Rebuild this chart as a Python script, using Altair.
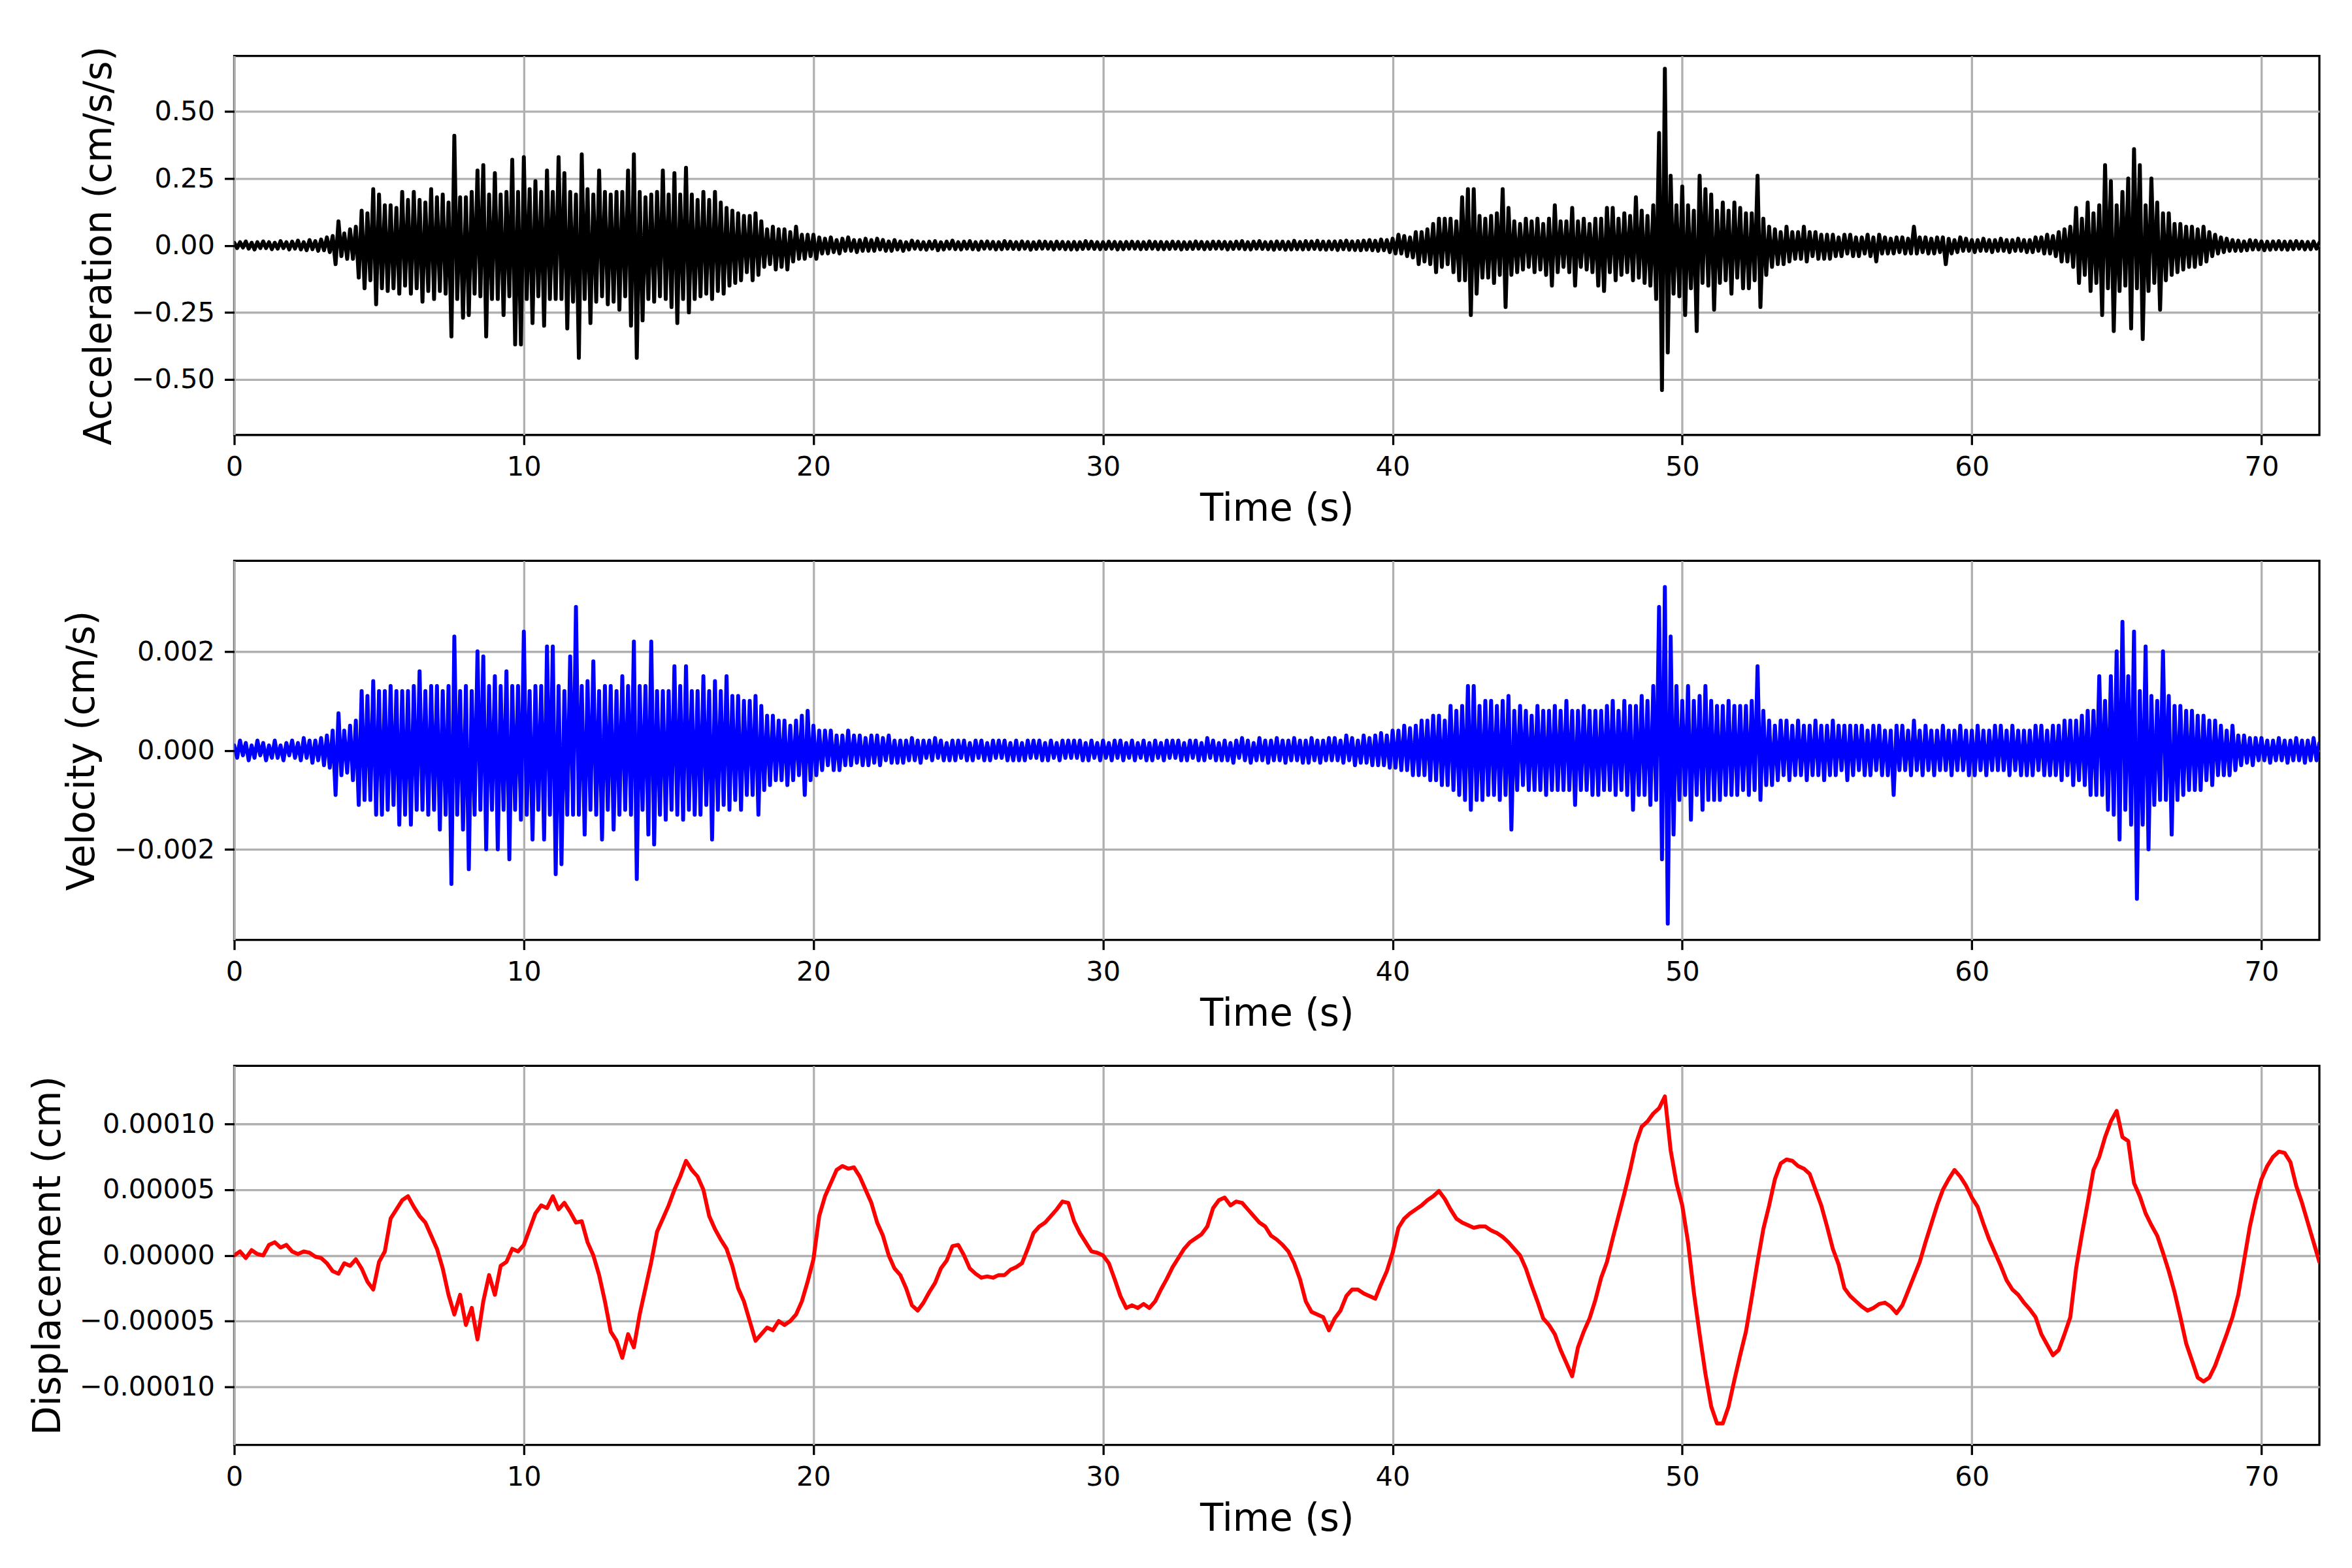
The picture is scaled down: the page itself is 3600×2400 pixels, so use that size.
import altair as alt
import numpy as np
import pandas as pd

# ---------------- data ----------------
# Acceleration (cm/s/s), one value every 0.1 s from 0.0 to 72.0 s (rows = 1 s)
ACC = [
    .01, -.01, .012, -.008, .015, -.012, .01, -.015, .012, -.01,
    .015, -.01, .012, -.014, .01, -.012, .016, -.01, .012, -.015,
    .014, -.012, .018, -.015, .012, -.018, .02, -.014, .016, -.02,
    .022, -.018, .03, -.025, .035, -.07, .09, -.04, .045, -.05,
    .06, -.05, .07, -.12, .13, -.16, .12, -.13, .21, -.22,
    .19, -.16, .15, -.17, .15, -.16, .14, -.18, .2, -.15,
    .17, -.18, .2, -.16, .17, -.21, .16, -.17, .21, -.2,
    .18, -.17, .19, -.18, .16, -.34, .41, -.2, .18, -.27,
    .18, -.26, .2, -.18, .28, -.19, .3, -.34, .19, -.2,
    .27, -.2, .19, -.26, .2, -.19, .32, -.37, .2, -.37,
    .33, -.2, .21, -.29, .24, -.19, .2, -.3, .28, -.2,
    .2, -.2, .33, -.2, .27, -.31, .2, -.21, .19, -.42,
    .34, -.2, .21, -.29, .19, -.21, .28, -.19, .2, -.22,
    .19, -.21, .2, -.24, .2, -.19, .28, -.3, .34, -.42,
    .2, -.28, .18, -.2, .19, -.21, .2, -.19, .28, -.2,
    .19, -.23, .27, -.29, .19, -.2, .29, -.25, .19, -.2,
    .17, -.19, .2, -.18, .17, -.2, .2, -.17, .16, -.18,
    .14, -.15, .13, -.14, .12, -.13, .11, -.1, .11, -.13,
    .12, -.11, .09, -.08, .06, -.07, .07, -.09, .06, -.08,
    .06, -.09, .05, -.06, .07, -.05, .04, -.05, .04, -.04,
    .04, -.05, .03, -.03, .025, -.03, .03, -.025, .02, -.03,
    .025, -.02, .03, -.02, .02, -.025, .02, -.02, .025, -.02,
    .02, -.02, .025, -.015, .02, -.02, .015, -.02, .02, -.015,
    .015, -.02, .012, -.015, .018, -.012, .015, -.014, .012, -.016,
    .014, -.012, .016, -.018, .012, -.015, .014, -.012, .018, -.014,
    .012, -.015, .014, -.012, .016, -.014, .012, -.016, .014, -.012,
    .015, -.012, .013, -.015, .012, -.014, .016, -.012, .014, -.013,
    .012, -.014, .015, -.012, .013, -.016, .012, -.013, .015, -.012,
    .014, -.012, .012, -.015, .014, -.012, .013, -.014, .012, -.015,
    .013, -.015, .012, -.013, .016, -.012, .014, -.013, .012, -.014,
    .012, -.013, .014, -.012, .013, -.015, .012, -.014, .013, -.012,
    .014, -.012, .013, -.014, .012, -.013, .015, -.012, .013, -.014,
    .013, -.014, .012, -.013, .014, -.012, .013, -.015, .012, -.013,
    .012, -.013, .015, -.012, .013, -.014, .012, -.013, .014, -.012,
    .014, -.012, .013, -.015, .012, -.013, .014, -.012, .016, -.014,
    .012, -.015, .014, -.012, .016, -.013, .012, -.014, .013, -.016,
    .015, -.013, .014, -.016, .013, -.015, .017, -.014, .013, -.015,
    .016, -.014, .015, -.013, .017, -.015, .014, -.016, .015, -.014,
    .015, -.017, .016, -.014, .018, -.016, .015, -.017, .016, -.018,
    .018, -.016, .02, -.018, .017, -.02, .022, -.018, .02, -.025,
    .025, -.03, .04, -.03, .035, -.04, .03, -.045, .05, -.07,
    .05, -.06, .06, -.07, .08, -.1, .1, -.08, .1, -.07,
    .1, -.1, .09, -.13, .18, -.13, .21, -.26, .21, -.18,
    .11, -.12, .1, -.12, .11, -.14, .12, -.11, .21, -.23,
    .14, -.11, .09, -.1, .08, -.09, .1, -.08, .09, -.1,
    .1, -.09, .08, -.11, .1, -.15, .15, -.1, .09, -.08,
    .09, -.1, .14, -.15, .09, -.08, .1, -.09, .08, -.1,
    .1, -.15, .1, -.17, .14, -.1, .14, -.13, .1, -.11,
    .12, -.1, .11, -.13, .18, -.12, .13, -.14, .11, -.15,
    .15, -.2, .42, -.54, .66, -.4, .26, -.18, .15, -.19,
    .22, -.26, .15, -.16, .13, -.32, .26, -.14, .21, -.15,
    .19, -.24, .13, -.14, .16, -.13, .13, -.18, .16, -.12,
    .14, -.16, .12, -.16, .12, -.13, .26, -.23, .1, -.11,
    .07, -.08, .06, -.07, .05, -.07, .07, -.06, .05, -.05,
    .05, -.05, .07, -.06, .05, -.04, .05, -.05, .04, -.05,
    .04, -.05, .04, -.04, .03, -.04, .04, -.03, .04, -.04,
    .03, -.04, .03, -.03, .04, -.04, .03, -.06, .04, -.03,
    .03, -.03, .025, -.03, .03, -.025, .03, -.03, .025, -.03,
    .07, -.03, .03, -.025, .03, -.03, .025, -.03, .03, -.025,
    .03, -.07, .025, -.03, .02, -.025, .03, -.02, .025, -.02,
    .02, -.025, .02, -.02, .025, -.02, .02, -.025, .02, -.02,
    .025, -.02, .02, -.025, .02, -.02, .025, -.02, .02, -.025,
    .02, -.025, .03, -.02, .03, -.03, .04, -.03, .035, -.04,
    .05, -.06, .06, -.06, .07, -.08, .14, -.14, .1, -.11,
    .16, -.17, .12, -.14, .15, -.26, .3, -.16, .24, -.32,
    .15, -.17, .2, -.15, .25, -.31, .36, -.16, .3, -.35,
    .15, -.17, .25, -.14, .16, -.24, .12, -.13, .12, -.11,
    .08, -.1, .08, -.09, .07, -.08, .07, -.08, .06, -.07,
    .07, -.06, .05, -.04, .04, -.03, .03, -.025, .025, -.02,
    .02, -.02, .018, -.02, .015, -.018, .02, -.015, .018, -.015,
    .015, -.018, .014, -.016, .015, -.014, .016, -.015, .014, -.016,
    .015, -.014, .016, -.012, .014, -.015, .013, -.014, .015, -.012,
    .01,
]

# Velocity in units of 1e-4 cm/s, one value every 0.1 s from 0.0 to 72.0 s
VEL_E4 = [
    1, -1.5, 2, -1, 1.5, -2, 1, -1.5, 2, -1,
    1.5, -2, 1, -1.5, 2, -1.5, 1, -2, 1.5, -1,
    2, -1.5, 1.5, -2, 2.5, -1.5, 2, -2.5, 2, -2,
    2.5, -3, 3, -3.5, 4, -9, 7.5, -5, 4, -4.5,
    5, -6, 6, -11, 12, -10, 11, -10, 14, -13,
    12, -13, 12, -12, 13, -11, 12, -15, 12, -13,
    12, -15, 13, -12, 16, -12, 12, -13, 13, -12,
    13, -16, 12, -13, 13, -27, 23, -13, 12, -16,
    13, -24, 12, -13, 20, -12, 19, -20, 13, -12,
    15, -20, 13, -12, 16, -22, 13, -12, 13, -14,
    24, -13, 12, -18, 13, -12, 13, -18, 21, -13,
    21, -25, 13, -23, 12, -13, 19, -13, 29, -13,
    13, -17, 14, -12, 18, -13, 12, -18, 13, -12,
    13, -16, 12, -13, 15, -12, 13, -13, 22, -26,
    13, -12, 13, -17, 22, -19, 12, -13, 12, -14,
    12, -12, 17, -13, 13, -14, 17, -12, 12, -13,
    12, -13, 15, -11, 12, -18, 14, -12, 12, -11,
    15, -12, 11, -10, 11, -12, 10, -9, 10, -9,
    11, -13, 9, -8, 7, -7, 7, -6, 6, -6,
    6, -7, 5, -6, 6, -5, 7, -9, 8, -6,
    5, -5, 4, -4, 4, -3, 4, -4, 3, -4,
    3, -3, 4, -3, 3, -2.5, 3, -3, 2.5, -3,
    3, -2.5, 3, -3, 2.5, -2, 3, -2.5, 2, -2.5,
    2, -2.5, 2, -2, 2.5, -2, 2, -2.5, 2, -1.5,
    2, -2, 2.5, -1.5, 2, -2, 1.5, -2, 2, -2,
    2, -1.5, 2, -2, 1.5, -2, 2, -1.5, 2, -2,
    1.5, -2, 2, -1.5, 2, -1.5, 2, -2, 1.5, -2,
    2, -2, 1.5, -2, 2, -1.5, 2, -1.5, 2, -2,
    1.5, -2, 2, -1.5, 1.5, -2, 2, -1.5, 2, -1.5,
    2, -1.5, 2, -2, 1.5, -2, 2, -1.5, 1.5, -2,
    2, -1.5, 1.5, -2, 2, -1.5, 2, -2, 1.5, -1.5,
    2, -2, 1.5, -1.5, 2, -2, 1.5, -2, 2, -1.5,
    1.5, -2, 2, -1.5, 2, -1.5, 2, -2, 1.5, -2,
    2, -1.5, 2, -2, 1.5, -2, 2.5, -1.5, 2, -2,
    1.5, -2, 2, -2, 1.5, -2.5, 2, -1.5, 2.5, -2,
    2, -2.5, 1.5, -2, 2.5, -2, 2, -2.5, 2, -2,
    2.5, -2, 2, -2.5, 2, -2, 2.5, -2, 2, -2.5,
    2, -2.5, 2.5, -2, 2, -2.5, 2, -2, 2.5, -2,
    2.5, -2, 2, -2.5, 3, -2, 2.5, -3, 2, -2.5,
    3, -2.5, 2.5, -3, 3, -3, 3.5, -3, 3, -3.5,
    4, -3.5, 4, -4, 5, -4, 4.5, -5, 5, -5,
    6, -5, 6, -6, 7, -6, 7, -7, 6, -7,
    9, -8, 8, -9, 9, -10, 13, -12, 13, -10,
    9, -10, 10, -9, 10, -9, 9, -10, 10, -9,
    11, -16, 8, -8, 9, -7, 8, -8, 7, -8,
    9, -8, 8, -9, 8, -8, 9, -8, 8, -8,
    10, -8, 8, -11, 8, -8, 9, -8, 8, -9,
    8, -9, 8, -8, 9, -8, 10, -9, 8, -8,
    10, -9, 9, -12, 9, -9, 11, -9, 10, -11,
    13, -10, 29, -22, 33, -35, 23, -17, 13, -10,
    10, -9, 13, -14, 10, -9, 11, -12, 13, -10,
    10, -10, 9, -10, 9, -9, 10, -9, 9, -9,
    9, -8, 9, -9, 10, -8, 17, -10, 8, -7,
    6, -7, 5, -6, 6, -5, 6, -6, 5, -5,
    6, -5, 5, -6, 5, -5, 6, -5, 5, -6,
    5, -5, 6, -5, 5, -4, 5, -6, 5, -5,
    5, -4, 5, -5, 4, -5, 5, -4, 5, -5,
    4, -5, 4, -9, 5, -4, 5, -4, 4, -5,
    6, -4, 4, -5, 5, -4, 4, -5, 4, -4,
    5, -4, 4, -5, 4, -4, 5, -4, 4, -5,
    4, -5, 5, -4, 4, -5, 4, -4, 5, -4,
    5, -4, 4, -5, 5, -4, 4, -5, 4, -5,
    4, -5, 5, -4, 5, -5, 4, -5, 5, -5,
    5, -6, 6, -5, 6, -7, 6, -6, 7, -7,
    8, -9, 8, -9, 15, -9, 10, -12, 15, -13,
    20, -18, 26, -12, 15, -15, 24, -30, 12, -15,
    21, -20, 11, -11, 10, -10, 20, -10, 11, -17,
    9, -10, 9, -9, 8, -8, 8, -8, 7, -8,
    7, -6, 6, -7, 6, -5, 5, -5, 4, -5,
    5, -4, 3, -3, 3, -2.5, 2.5, -3, 2.5, -2,
    2.5, -2, 2, -2.5, 2, -2, 2.5, -2, 2, -2.5,
    2, -2, 2.5, -2, 2, -2.5, 2, -2, 2.5, -2,
    1.5,
]

# Displacement in units of 1e-5 cm, one value every 0.2 s from 0.0 to 72.0 s
DISP_E5 = [
    0, 0.3, -0.2, 0.4, 0.1,
    0, 0.8, 1.0, 0.6, 0.8,
    0.3, 0.1, 0.3, 0.2, -0.1,
    -0.2, -0.6, -1.2, -1.4, -0.6,
    -0.8, -0.3, -1.0, -2.0, -2.6,
    -0.5, 0.3, 2.8, 3.5, 4.2,
    4.5, 3.7, 3.0, 2.5, 1.5,
    0.5, -1.0, -3.0, -4.5, -3.0,
    -5.3, -4.0, -6.4, -3.5, -1.5,
    -3.0, -0.8, -0.5, 0.5, 0.3,
    0.8, 2.0, 3.2, 3.8, 3.6,
    4.5, 3.5, 4.0, 3.3, 2.5,
    2.6, 1.0, 0, -1.5, -3.5,
    -5.8, -6.5, -7.8, -6.0, -7.0,
    -4.5, -2.5, -0.5, 1.8, 2.8,
    3.8, 5.0, 6.0, 7.2, 6.5,
    6.0, 5.0, 3.0, 2.0, 1.2,
    0.5, -0.8, -2.5, -3.5, -5.0,
    -6.5, -6.0, -5.5, -5.7, -5.0,
    -5.3, -5.0, -4.5, -3.5, -2.0,
    -0.3, 3.0, 4.5, 5.5, 6.5,
    6.8, 6.6, 6.7, 6.0, 5.0,
    4.0, 2.5, 1.5, 0, -1.0,
    -1.5, -2.5, -3.8, -4.2, -3.6,
    -2.8, -2.1, -1.0, -0.4, 0.7,
    0.8, 0, -1.0, -1.4, -1.7,
    -1.6, -1.7, -1.5, -1.5, -1.1,
    -0.9, -0.6, 0.5, 1.7, 2.2,
    2.5, 3.0, 3.5, 4.1, 4.0,
    2.6, 1.7, 1.0, 0.3, 0.2,
    0, -0.6, -1.8, -3.1, -4.0,
    -3.8, -4.0, -3.7, -4.0, -3.5,
    -2.6, -1.8, -0.9, -0.2, 0.5,
    1.0, 1.3, 1.6, 2.2, 3.6,
    4.2, 4.4, 3.8, 4.1, 4.0,
    3.5, 3.0, 2.5, 2.2, 1.5,
    1.2, 0.8, 0.3, -0.6, -1.8,
    -3.5, -4.3, -4.5, -4.7, -5.7,
    -4.8, -4.2, -3.1, -2.6, -2.6,
    -2.9, -3.1, -3.3, -2.2, -1.2,
    0.2, 2.1, 2.8, 3.2, 3.5,
    3.8, 4.2, 4.5, 4.9, 4.3,
    3.5, 2.8, 2.5, 2.3, 2.1,
    2.2, 2.2, 1.9, 1.7, 1.4,
    1.0, 0.5, 0, -1.0, -2.3,
    -3.5, -4.8, -5.3, -6.0, -7.2,
    -8.2, -9.2, -7.0, -5.8, -4.8,
    -3.4, -1.7, -0.5, 1.3, 3.0,
    4.7, 6.5, 8.5, 9.8, 10.2,
    10.8, 11.2, 12.1, 8.0, 5.5,
    3.8, 1.0, -2.8, -6.0, -9.0,
    -11.5, -12.8, -12.8, -11.5, -9.5,
    -7.6, -5.8, -3.2, -0.5, 2.0,
    3.8, 5.8, 7.0, 7.3, 7.2,
    6.8, 6.6, 6.2, 5.0, 3.8,
    2.2, 0.5, -0.7, -2.5, -3.1,
    -3.5, -3.9, -4.2, -4.0, -3.7,
    -3.6, -3.9, -4.4, -3.8, -2.7,
    -1.6, -0.5, 1.0, 2.4, 3.8,
    5.0, 5.8, 6.5, 6.0, 5.3,
    4.4, 3.7, 2.4, 1.2, 0.2,
    -0.8, -1.9, -2.6, -3.0, -3.6,
    -4.1, -4.7, -6.0, -6.8, -7.6,
    -7.2, -6.0, -4.7, -1.0, 1.6,
    4.0, 6.5, 7.5, 9.0, 10.2,
    11.0, 9.0, 8.7, 5.5, 4.5,
    3.2, 2.3, 1.5, 0.2, -1.2,
    -2.8, -4.7, -6.7, -8.0, -9.3,
    -9.6, -9.3, -8.4, -7.2, -6.0,
    -4.7, -3.0, -0.4, 2.2, 4.2,
    5.8, 6.8, 7.5, 7.9, 7.8,
    7.1, 5.3, 4.0, 2.5, 1.0,
    -0.5,
]

X_TICKS = [0, 10, 20, 30, 40, 50, 60, 70]
ACC_TICKS = [-0.5, -0.25, 0.0, 0.25, 0.5]
VEL_TICKS = [-0.002, 0.0, 0.002]
DISP_TICKS = [-0.0001, -0.00005, 0.0, 0.00005, 0.0001]

assert len(ACC) == 721, len(ACC)
assert len(VEL_E4) == 721, len(VEL_E4)
assert len(DISP_E5) == 361, len(DISP_E5)

acc_df = pd.DataFrame({"t": np.round(np.arange(len(ACC)) * 0.1, 2), "v": ACC})
vel_df = pd.DataFrame({"t": np.round(np.arange(len(VEL_E4)) * 0.1, 2),
                       "v": np.array(VEL_E4) * 1e-4})
disp_df = pd.DataFrame({"t": np.round(np.arange(len(DISP_E5)) * 0.2, 2),
                        "v": np.array(DISP_E5) * 1e-5})

W, H = 3196, 581


def panel(df, color, title, ticks, fmt, lim, title_x):
    return alt.Chart(df).mark_line(
        color=color, strokeWidth=6, strokeJoin="round", strokeCap="round", clip=True
    ).encode(
        x=alt.X("t:Q",
                scale=alt.Scale(domain=[0, 72], nice=False, zero=False),
                axis=alt.Axis(values=X_TICKS, format="d", title="Time (s)")),
        y=alt.Y("v:Q",
                scale=alt.Scale(domain=[-lim, lim], nice=False, zero=False),
                axis=alt.Axis(values=ticks, format=fmt, title=title,
                              titleX=title_x, titleY=H / 2,
                              titleAngle=270, titleBaseline="bottom",
                              titleAlign="center")),
    ).properties(width=W, height=H)


a = panel(acc_df, "#000000", "Acceleration (cm/s/s)", ACC_TICKS, ".2f", 0.708, -177)
v = panel(vel_df, "#0000ff", "Velocity (cm/s)", VEL_TICKS, ".3f", 0.00383, -203)
d = panel(disp_df, "#ff0000", "Displacement (cm)", DISP_TICKS, ".5f", 0.0001443, -255)

chart = alt.vconcat(a, v, d, spacing=193, bounds="flush").properties(
    padding={"left": 36, "top": 58, "right": 40, "bottom": 20},
    background="white",
).configure_view(
    stroke="black", strokeWidth=3.3
).configure_axis(
    domain=False,
    grid=True, gridColor="#b0b0b0", gridWidth=3.3,
    ticks=True, tickColor="black", tickWidth=3.3, tickSize=15,
    labelFont="DejaVu Sans", labelFontSize=41.67, labelColor="black",
    labelPadding=15, labelFlush=False, labelOverlap=False, labelLimit=600,
    titleFont="DejaVu Sans", titleFontSize=58, titleFontWeight="normal",
    titleColor="black", titlePadding=24,
).configure_axisX(
    labelPadding=14, titlePadding=14
)

chart.save("out.html", embed_options={"renderer": "svg", "actions": False})
